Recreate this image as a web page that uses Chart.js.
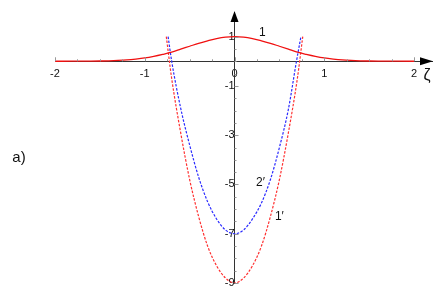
<!DOCTYPE html>
<html>
<head>
<meta charset="utf-8">
<script src="https://cdn.jsdelivr.net/npm/chart.js@4/dist/chart.umd.min.js"></script>
<style>
html,body{margin:0;padding:0;background:#fff;}
#wrap{width:443px;height:300px;position:relative;}
</style>
</head>
<body>
<div id="wrap"><canvas id="c"></canvas></div>
<script>
// Curve 1 (solid red)
const x1 = [-2,-1.8,-1.6,-1.5,-1.4,-1.3,-1.2,-1.1,-1,-0.9,-0.8,-0.7,-0.6,-0.5,-0.4,-0.3,-0.2,-0.1,0,0.1,0.2,0.3,0.4,0.5,0.6,0.7,0.8,0.9,1,1.1,1.2,1.3,1.4,1.5,1.6,1.8,2];
const y1 = [0,0.002,0.006,0.011,0.02,0.034,0.055,0.09,0.135,0.2,0.28,0.37,0.49,0.61,0.73,0.83,0.92,0.98,1,0.98,0.92,0.83,0.73,0.61,0.49,0.37,0.28,0.2,0.135,0.09,0.055,0.034,0.02,0.011,0.006,0.002,0];
// Curve 1' (dashed red)
const x1p = [-0.76,-0.7,-0.6,-0.5,-0.4,-0.3,-0.2,-0.1,0,0.1,0.2,0.3,0.4,0.5,0.6,0.7,0.76];
const y1p = [1.0,-0.7,-2.9,-4.8,-6.3,-7.5,-8.3,-8.8,-9,-8.8,-8.3,-7.5,-6.3,-4.8,-2.9,-0.7,1.0];
// Curve 2' (dashed blue)
const x2p = [-0.74,-0.7,-0.6,-0.5,-0.4,-0.3,-0.2,-0.1,0,0.1,0.2,0.3,0.4,0.5,0.6,0.69,0.74];
const y2p = [1.0,0.0,-1.9,-3.4,-4.7,-5.7,-6.4,-6.85,-7,-6.85,-6.4,-5.75,-4.8,-3.5,-1.95,0,1.0];
// Tick labels
const xTicks = [-2,-1,0,1,2];
const yTicks = [1,-1,-3,-5,-7,-9];

const pts = (xs, ys) => xs.map((x, i) => ({x: x, y: ys[i]}));
const FONT = "'Liberation Sans', Arial, sans-serif";

const decor = {
  id: 'decor',
  afterDraw(chart) {
    const ctx = chart.ctx;
    const xs = chart.scales.x, ys = chart.scales.y;
    const ox = xs.getPixelForValue(0), oy = ys.getPixelForValue(0);
    const ca = chart.chartArea;
    ctx.save();
    // minor tick marks
    ctx.strokeStyle = '#999';
    ctx.lineWidth = 1;
    ctx.beginPath();
    for (let v = -2; v <= 2.001; v += 0.25) {
      const px = Math.round(xs.getPixelForValue(v)) + 0.5;
      const major = Math.abs(v - Math.round(v)) < 1e-6;
      ctx.moveTo(px, oy);
      ctx.lineTo(px, oy - (major ? 4 : 2));
    }
    for (let v = -9; v <= 1.001; v += 0.5) {
      const py = Math.round(ys.getPixelForValue(v)) + 0.5;
      const major = Math.abs(v - Math.round(v)) < 1e-6 && Math.abs(Math.round(v)) % 2 === 1;
      ctx.moveTo(ox, py);
      ctx.lineTo(ox + (major ? 4 : 2), py);
    }
    ctx.stroke();
    // arrows
    ctx.fillStyle = '#000';
    ctx.beginPath();
    ctx.moveTo(ox, ca.top - 1);
    ctx.lineTo(ox - 4, ca.top + 10);
    ctx.lineTo(ox + 4, ca.top + 10);
    ctx.closePath();
    ctx.fill();
    ctx.beginPath();
    ctx.moveTo(ca.right + 1, oy);
    ctx.lineTo(ca.right - 12, oy - 4);
    ctx.lineTo(ca.right - 12, oy + 4);
    ctx.closePath();
    ctx.fill();
    // text labels
    ctx.fillStyle = '#111';
    ctx.textAlign = 'center';
    ctx.textBaseline = 'middle';
    ctx.font = '12px ' + FONT;
    ctx.fillText('1', xs.getPixelForValue(0.31), ys.getPixelForValue(1.14));
    ctx.fillText('2\u2032', xs.getPixelForValue(0.29), ys.getPixelForValue(-4.93));
    ctx.fillText('1\u2032', xs.getPixelForValue(0.5), ys.getPixelForValue(-6.3));
    ctx.font = '16px ' + FONT;
    ctx.fillText('\u03B6', 427, oy + 14);
    ctx.font = '15px ' + FONT;
    ctx.fillText('a)', 19, 158);
    ctx.restore();
  }
};

new Chart(document.getElementById('c'), {
  type: 'line',
  data: {
    datasets: [
      {data: pts(x1, y1), borderColor: '#f01010', borderWidth: 1.3, pointRadius: 0, cubicInterpolationMode: 'monotone', fill: false},
      {data: pts(x1p, y1p), borderColor: '#ff3030', borderWidth: 1.2, borderDash: [2.5, 1.5], pointRadius: 0, cubicInterpolationMode: 'monotone', fill: false},
      {data: pts(x2p, y2p), borderColor: '#2a2aff', borderWidth: 1.2, borderDash: [2.5, 1.5], pointRadius: 0, cubicInterpolationMode: 'monotone', fill: false}
    ]
  },
  options: {
    responsive: true,
    maintainAspectRatio: false,
    animation: false,
    devicePixelRatio: 1,
    layout: {padding: {left: 55, right: 11, top: 12, bottom: 17}},
    plugins: {legend: {display: false}, tooltip: {enabled: false}, title: {display: false}},
    scales: {
      x: {
        type: 'linear', min: -2, max: 2.2, position: {y: 0},
        afterBuildTicks: (s) => { s.ticks = xTicks.map(v => ({value: v})); },
        grid: {display: false, drawTicks: false},
        border: {display: true, color: '#333', width: 1},
        ticks: {color: '#111', font: {family: FONT, size: 11}, padding: 6, maxRotation: 0, autoSkip: false}
      },
      y: {
        type: 'linear', min: -9, max: 2, position: {x: 0},
        afterBuildTicks: (s) => { s.ticks = yTicks.map(v => ({value: v})); },
        grid: {display: false, drawTicks: false},
        border: {display: true, color: '#333', width: 1},
        ticks: {color: '#111', font: {family: FONT, size: 11}, padding: 5, autoSkip: false}
      }
    }
  },
  plugins: [decor]
});
</script>
</body>
</html>
